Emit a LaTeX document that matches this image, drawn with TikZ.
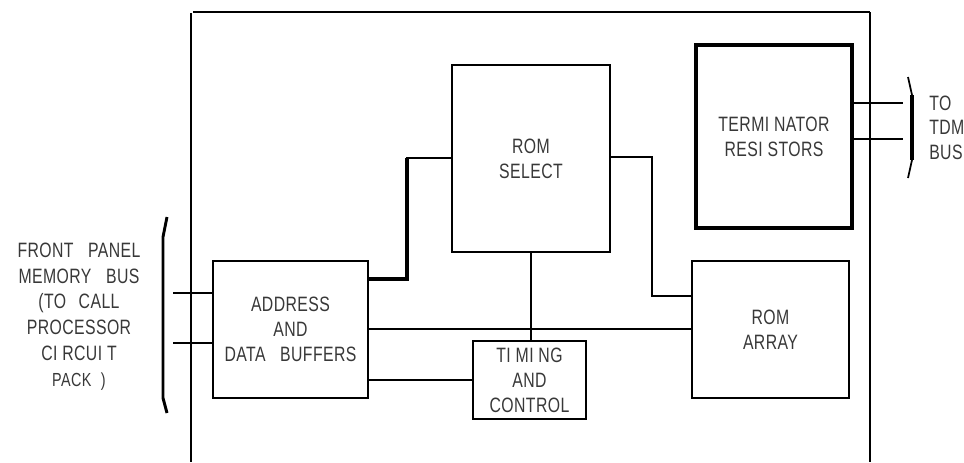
\documentclass[tikz,border=0pt]{standalone}
\usepackage{fontspec}
\setmainfont{Liberation Sans}[FakeStretch=0.76,LetterSpace=2]
\begin{document}
\begin{tikzpicture}[x=0.75pt,y=-0.75pt,
  wire/.style={line width=1.5pt,line cap=rect},
  thickwire/.style={line width=3pt,line cap=rect},
  midwire/.style={line width=2.2pt},
  blockbox/.style={draw,line width=1.5pt,align=center,inner sep=0pt,
     text=black!78,font=\fontsize{15.6}{18.75}\selectfont},
  lbl/.style={text=black!78,font=\fontsize{15.6}{19.4}\selectfont,inner sep=0pt}]
\useasboundingbox (0,0) rectangle (964,462);
% board outline
\draw[wire,line cap=butt] (191,13) -- (191,462);
\draw[wire,line cap=butt] (193,12) -- (870,12);
\draw[wire,line cap=butt] (870,12) -- (870,462);
% blocks
\node[blockbox,minimum width=118.5pt,minimum height=140.25pt] (rs) at (531,158.5) {ROM\\SELECT};
\node[blockbox,line width=2.5pt,minimum width=117pt,minimum height=137.25pt] (term) at (774,136.5) {TERMI NATOR\\RESI STORS};
\node[blockbox,minimum width=116.25pt,minimum height=102.75pt] (addr) at (290.5,329.5) {ADDRESS\\AND\\DATA\hspace{0.7em}BUFFERS};
\node[blockbox,minimum width=117.75pt,minimum height=102.75pt] (arr) at (770.5,329.5) {ROM\\ARRAY};
\node[blockbox,minimum width=84.75pt,minimum height=58.5pt] (tim) at (529.5,380) {TI MI NG\\AND\\CONTROL};
% junction coordinates
\coordinate (j1) at (407,279);
\coordinate (j2) at (407,158);
\coordinate (j3) at (652,157);
\coordinate (j4) at (652,296);
\coordinate (bus) at (0,329);
\coordinate (t1) at (902,103);
\coordinate (t2) at (902,139);
\coordinate (f1) at (174,293);
\coordinate (f2) at (174,343);
% connectors
\draw[thickwire,line cap=butt] (addr.east |- j1) -- (j1) -- (j2);
\draw[wire] (j2) -- (rs.west |- j2);
\draw[wire] (rs.east |- j3) -- (j3) -- (j4) -- (arr.west |- j4);
\draw[midwire] (rs.south) -- (rs.south |- tim.north);
\draw[wire] (addr.east |- bus) -- (arr.west |- bus);
\draw[wire] (tim.west) -- (addr.east |- tim.west);
\draw[wire] (term.east |- t1) -- (t1);
\draw[wire] (term.east |- t2) -- (t2);
\draw[wire] (f1) -- (addr.west |- f1);
\draw[wire] (f2) -- (addr.west |- f2);
% brackets
\coordinate (lb1) at (163,237);
\coordinate (lb2) at (163,398);
\coordinate (lb0) at (167,217);
\coordinate (lb3) at (167,413);
\draw[line width=2.2pt] (lb0) -- (lb1) -- (lb2) -- (lb3);
\coordinate (rb1) at (912,95);
\coordinate (rb2) at (912,160);
\coordinate (rb0) at (908,77);
\coordinate (rb3) at (908,178);
\draw[line width=1.3pt] (rb0) -- (rb1);
\draw[line width=1.3pt] (rb2) -- (rb3);
\draw[line width=3pt] (rb1) -- (rb2);
% outside labels
\node[lbl,align=center] (fp) at (79,316.5) {FRONT\hspace{0.7em}PANEL\\MEMORY\hspace{0.7em}BUS\\(TO\hspace{0.6em}CALL\\PROCESSOR\\CI RCUI T\\{\fontsize{14.2}{19.4}\selectfont PACK\hspace{0.5em})}};
\node[lbl,align=left,anchor=west,font=\fontsize{15.6}{18.4}\selectfont] (tdm) at (929,127.5) {TO\\TDM\\BUS};
\end{tikzpicture}
\end{document}
